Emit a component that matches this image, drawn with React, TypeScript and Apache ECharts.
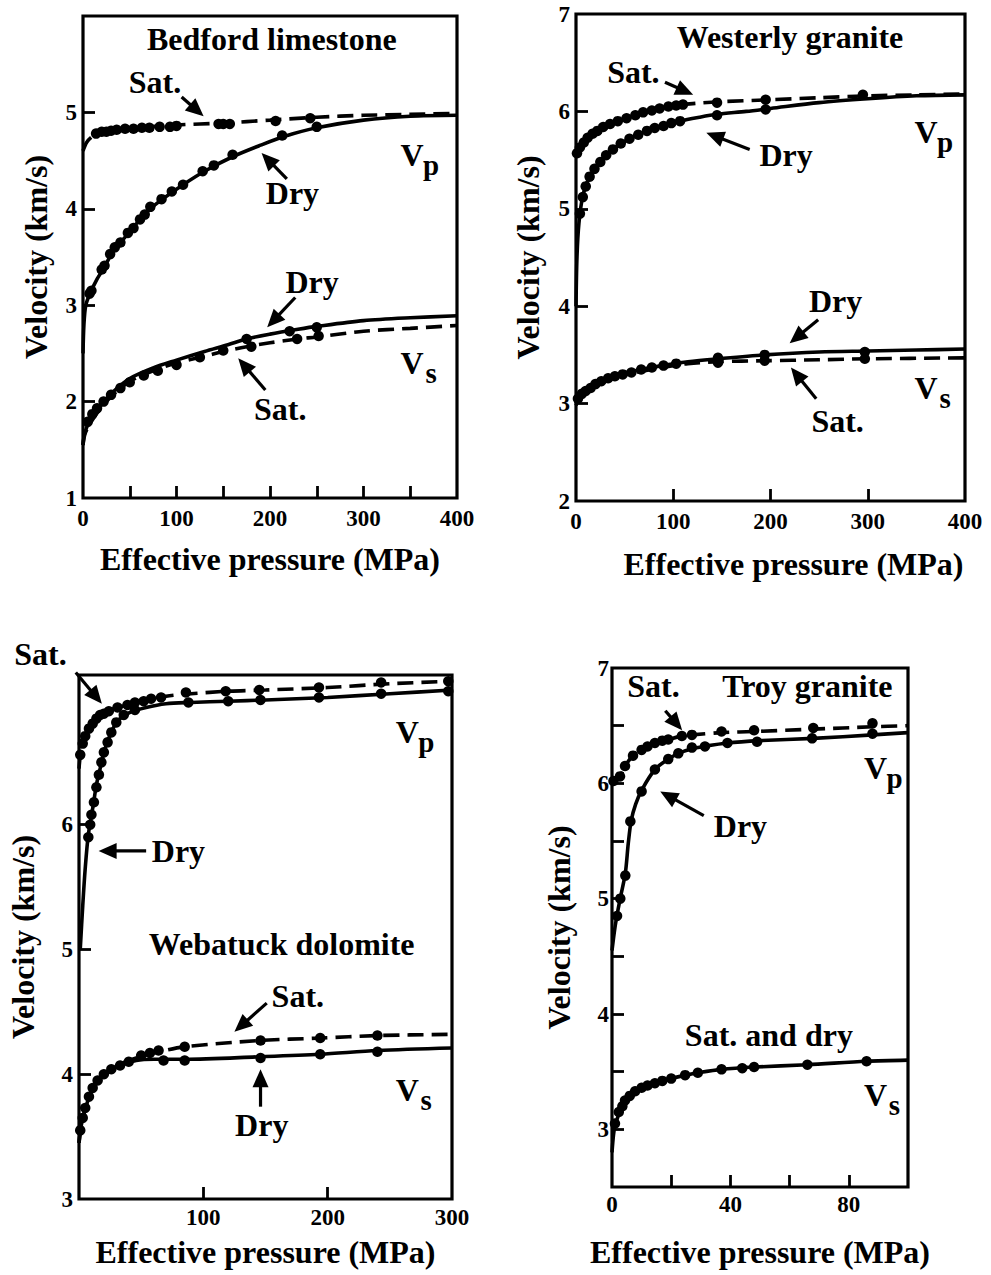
import React, { useEffect, useRef } from 'react';
import * as echarts from 'echarts';

const FONT = '"Liberation Serif", "Times New Roman", serif';

// ---------- Bedford limestone (x: MPa, y: km/s) ----------
const bedfordSatVpCurve = [[0,4.6],[4,4.69],[10,4.75],[20,4.79],[40,4.82],[70,4.85],[100,4.87],[150,4.89],[200,4.92],[250,4.95],[300,4.97],[350,4.98],[400,4.99]];
const bedfordSatVpPts = [[14,4.78],[20,4.80],[25,4.80],[30,4.81],[36,4.82],[45,4.83],[54,4.83],[63,4.84],[71,4.84],[82,4.85],[93,4.85],[100,4.86],[145,4.88],[150,4.88],[157,4.88],[206,4.91],[243,4.94]];
const bedfordDryVpCurve = [[0,2.5],[1,2.8],[3,3.0],[7.5,3.12],[15,3.27],[22,3.38],[30,3.52],[40,3.65],[50,3.76],[60,3.88],[72,4.0],[85,4.1],[107,4.25],[130,4.39],[160,4.54],[190,4.66],[215,4.75],[250,4.84],[300,4.92],[350,4.96],[400,4.97]];
const bedfordDryVpPts = [[7,3.12],[9,3.15],[20,3.37],[23,3.41],[29,3.53],[34,3.60],[40,3.65],[48,3.75],[54,3.80],[61,3.89],[66,3.94],[72,4.02],[84,4.10],[95,4.18],[107,4.25],[128,4.39],[140,4.45],[160,4.56],[213,4.76],[250,4.85]];
const bedfordDryVsCurve = [[0,1.55],[2,1.68],[7.5,1.8],[18,1.95],[32,2.1],[50,2.24],[75,2.35],[100,2.43],[130,2.52],[155,2.59],[175,2.65],[200,2.7],[230,2.75],[250,2.78],[300,2.84],[350,2.87],[400,2.89]];
const bedfordSatVsCurve = [[0,1.55],[2,1.66],[7.5,1.77],[18,1.92],[32,2.07],[50,2.21],[75,2.32],[100,2.4],[130,2.47],[155,2.53],[175,2.57],[200,2.61],[230,2.65],[250,2.67],[300,2.73],[350,2.76],[400,2.79]];
const bedfordDryVsPts = [[5,1.79],[10,1.87],[15,1.93],[22,2.0],[30,2.07],[40,2.14],[50,2.2],[65,2.27],[80,2.32],[100,2.38],[125,2.46],[150,2.53],[175,2.65],[221,2.73],[250,2.77]];
const bedfordSatVsPts = [[180,2.57],[229,2.65],[252,2.68]];

// ---------- Westerly granite ----------
const westerlySatVpCurve = [[0,5.55],[5,5.65],[11,5.72],[21,5.8],[35,5.87],[52,5.93],[69,5.99],[86,6.03],[103,6.06],[120,6.08],[150,6.1],[200,6.12],[250,6.14],[300,6.16],[350,6.17],[400,6.18]];
const westerlySatVpPts = [[1,5.57],[4,5.63],[8,5.68],[12,5.73],[17,5.77],[22,5.8],[28,5.84],[35,5.87],[43,5.9],[52,5.93],[61,5.96],[69,5.99],[78,6.01],[86,6.03],[95,6.05],[103,6.06],[110,6.07],[145,6.09],[195,6.12],[295,6.17]];
const westerlyDryVpCurve = [[0,4.0],[1,4.5],[3,4.85],[7,5.13],[14,5.33],[25,5.48],[38,5.61],[55,5.72],[73,5.8],[90,5.85],[107,5.9],[127,5.94],[145,5.97],[175,6.0],[200,6.03],[250,6.09],[300,6.13],[350,6.16],[400,6.17]];
const westerlyDryVpPts = [[4,4.95],[7,5.12],[10,5.23],[14,5.33],[19,5.41],[25,5.48],[31,5.55],[38,5.61],[46,5.67],[55,5.72],[64,5.76],[73,5.8],[81,5.83],[90,5.85],[98,5.88],[107,5.9],[145,5.96],[195,6.02]];
const westerlyDryVsCurve = [[0,3.0],[3,3.07],[13,3.14],[26,3.23],[44,3.3],[67,3.35],[95,3.4],[115,3.43],[146,3.46],[194,3.5],[250,3.53],[300,3.54],[350,3.55],[400,3.56]];
const westerlySatVsCurve = [[0,2.98],[3,3.05],[13,3.12],[26,3.21],[44,3.28],[67,3.33],[95,3.38],[115,3.41],[146,3.43],[194,3.44],[250,3.45],[300,3.46],[400,3.47]];
const westerlyDryVsPts = [[2,3.05],[6,3.1],[10,3.13],[15,3.16],[20,3.2],[26,3.23],[33,3.26],[40,3.28],[48,3.3],[57,3.32],[67,3.35],[78,3.37],[90,3.39],[103,3.41],[146,3.47],[194,3.5],[297,3.53]];
const westerlySatVsPts = [[146,3.42],[194,3.44],[297,3.46]];

// ---------- Webatuck dolomite ----------
const webatuckSatVpCurve = [[0,6.45],[1,6.55],[3,6.65],[6,6.73],[10,6.81],[17,6.88],[25,6.92],[35,6.95],[50,6.99],[70,7.03],[90,7.05],[120,7.07],[150,7.08],[200,7.1],[250,7.13],[300,7.15]];
const webatuckSatVpPts = [[1,6.56],[3,6.65],[5,6.71],[8,6.77],[11,6.81],[14,6.85],[17,6.88],[20,6.89],[24,6.91],[31,6.94],[39,6.96],[45,6.98],[52,6.99],[58,7.01],[66,7.02],[86,7.06],[118,7.07],[145,7.08],[193,7.1],[243,7.14],[297,7.15]];
const webatuckDryVpCurve = [[1,5.0],[3,5.35],[5,5.65],[7.5,5.92],[11.5,6.16],[14,6.32],[17,6.45],[21,6.61],[25,6.72],[31,6.83],[41,6.9],[54,6.94],[70,6.97],[90,6.98],[120,6.99],[150,7.0],[200,7.02],[250,7.05],[300,7.08]];
const webatuckDryVpPts = [[7.5,5.9],[9,6.0],[10,6.08],[12,6.18],[14,6.3],[16,6.4],[18,6.5],[20,6.58],[23,6.66],[26,6.74],[30,6.82],[36,6.88],[45,6.92],[88,6.98],[120,6.99],[146,7.0],[193,7.02],[243,7.05],[297,7.07]];
const webatuckDryVsCurve = [[0,3.45],[2,3.6],[5,3.72],[11.5,3.9],[20,4.0],[33,4.07],[46,4.11],[60,4.12],[85,4.12],[145,4.14],[194,4.16],[240,4.19],[300,4.21]];
const webatuckSatVsCurve = [[0,3.45],[2,3.6],[5,3.72],[11.5,3.9],[20,4.0],[33,4.08],[46,4.13],[60,4.17],[85,4.22],[145,4.27],[194,4.29],[240,4.31],[300,4.32]];
const webatuckVsPts = [[1,3.55],[3,3.65],[5,3.73],[8,3.82],[11,3.89],[15,3.95],[20,4.0],[26,4.04],[33,4.07],[40,4.1],[50,4.15],[57,4.17],[68,4.11],[85,4.11],[146,4.13],[194,4.16],[240,4.18]];
const webatuckSatVsPts = [[64,4.19],[85,4.22],[146,4.27],[194,4.29],[240,4.31]];

// ---------- Troy granite ----------
const troySatVpCurve = [[0,6.0],[2.7,6.06],[4.4,6.15],[7.1,6.24],[10,6.29],[14.5,6.35],[19,6.38],[23.6,6.41],[27,6.42],[37,6.44],[49,6.45],[68,6.47],[88,6.49],[100,6.5]];
const troySatVpPts = [[0.5,6.02],[2.7,6.06],[4.4,6.15],[7.1,6.24],[10,6.29],[12,6.32],[14.5,6.35],[17,6.37],[19,6.38],[23.6,6.41],[27,6.42],[37,6.45],[48,6.46],[68,6.48],[88,6.52]];
const troyDryVpCurve = [[0,4.55],[1,4.75],[2,4.9],[3,5.03],[4.5,5.22],[5.5,5.48],[6.5,5.68],[8,5.82],[10,5.94],[14.5,6.12],[19,6.21],[22.5,6.26],[27,6.3],[31,6.32],[39,6.35],[50,6.37],[68,6.39],[88,6.42],[100,6.44]];
const troyDryVpPts = [[1.7,4.85],[2.8,5.0],[4.5,5.2],[6.2,5.67],[10,5.93],[14.5,6.12],[19,6.21],[22.4,6.26],[27,6.31],[31.4,6.32],[39,6.35],[49,6.36],[67.6,6.39],[88,6.43]];
const troyVsCurve = [[0,2.8],[0.5,2.95],[1,3.03],[2.3,3.13],[4.4,3.25],[7.8,3.33],[14.5,3.4],[20,3.44],[25,3.47],[29,3.49],[37,3.52],[48,3.54],[66,3.56],[86,3.59],[100,3.6]];
const troyVsPts = [[1,3.05],[2.3,3.15],[3.5,3.2],[4.4,3.25],[6,3.29],[7.8,3.33],[10,3.36],[12,3.38],[14.5,3.4],[17,3.42],[20,3.44],[24.7,3.47],[29,3.49],[37,3.52],[44,3.53],[48,3.54],[66,3.56],[86,3.59]];

// ---------- axis tick / label values ----------
const xTicks = [[50,100,150,200,250,300,350],[100,200,300],[100,200],[20,40,60,80]];
const xLabels = [[0,100,200,300,400],[0,100,200,300,400],[100,200,300],[0,40,80]];
const yTicks = [[2,3,4,5],[3,4,5,6],[4,5,6],[3,3.5,4,4.5,5,5.5,6,6.5]];
const yLabels = [[1,2,3,4,5],[2,3,4,5,6,7],[3,4,5,6],[3,4,5,6,7]];
const xRanges = [[0,400],[0,400],[0,300],[0,100]];
const yRanges = [[1,6],[2,7],[3,7.2],[2.5,7]];

// ---------- annotations (data coords per panel) ----------
const texts = [
  { g: 0, t: 'Bedford limestone', x: 202, y: 5.76 },
  { g: 0, t: 'Sat.', x: 77, y: 5.32 },
  { g: 0, t: 'Dry', x: 224, y: 4.16 },
  { g: 0, t: 'Dry', x: 245, y: 3.24 },
  { g: 0, t: 'Sat.', x: 211, y: 1.92 },
  { g: 1, t: 'Westerly granite', x: 220, y: 6.76 },
  { g: 1, t: 'Sat.', x: 59, y: 6.4 },
  { g: 1, t: 'Dry', x: 216, y: 5.55 },
  { g: 1, t: 'Dry', x: 267, y: 4.05 },
  { g: 1, t: 'Sat.', x: 269, y: 2.82 },
  { g: 2, t: 'Sat.', x: -31, y: 7.37 },
  { g: 2, t: 'Dry', x: 80, y: 5.79 },
  { g: 2, t: 'Webatuck dolomite', x: 163, y: 5.04 },
  { g: 2, t: 'Sat.', x: 176, y: 4.63 },
  { g: 2, t: 'Dry', x: 147, y: 3.59 },
  { g: 3, t: 'Troy granite', x: 66, y: 6.84 },
  { g: 3, t: 'Sat.', x: 14, y: 6.84 },
  { g: 3, t: 'Dry', x: 43.4, y: 5.63 },
  { g: 3, t: 'Sat. and dry', x: 53, y: 3.82 },
];
const subLabels = [
  { g: 0, v: 'V', s: 'p', x: 352, y: 4.56 },
  { g: 0, v: 'V', s: 's', x: 352, y: 2.4 },
  { g: 1, v: 'V', s: 'p', x: 360, y: 5.79 },
  { g: 1, v: 'V', s: 's', x: 360, y: 3.16 },
  { g: 2, v: 'V', s: 'p', x: 264, y: 6.74 },
  { g: 2, v: 'V', s: 's', x: 264, y: 3.87 },
  { g: 3, v: 'V', s: 'p', x: 89, y: 6.13 },
  { g: 3, v: 'V', s: 's', x: 89, y: 3.3 },
];
const arrows = [
  { g: 0, from: [105.5, 5.16], to: [129, 4.96] },
  { g: 0, from: [218, 4.31], to: [191, 4.58] },
  { g: 0, from: [227, 3.08], to: [197, 2.77] },
  { g: 0, from: [195, 2.12], to: [166, 2.45] },
  { g: 1, from: [91.5, 6.3], to: [120.5, 6.17] },
  { g: 1, from: [178.6, 5.61], to: [134, 5.78] },
  { g: 1, from: [249, 3.86], to: [219.7, 3.62] },
  { g: 1, from: [247, 3.05], to: [221, 3.37] },
  { g: 2, from: [-2.6, 7.22], to: [18.4, 6.97] },
  { g: 2, from: [54, 5.79], to: [15.8, 5.79] },
  { g: 2, from: [151, 4.57], to: [125, 4.34] },
  { g: 2, from: [146, 3.74], to: [146, 4.04] },
  { g: 3, from: [18, 6.63], to: [23.7, 6.46] },
  { g: 3, from: [31, 5.72], to: [16.3, 5.93] },
];

const grids = [
  { left: 83, top: 16, width: 374, height: 482 },
  { left: 576, top: 14, width: 389, height: 487 },
  { left: 79, top: 675, width: 373, height: 524 },
  { left: 612, top: 668, width: 296, height: 519 },
];
const yNameGap = [31, 32, 40, 37];
const xNameGap = [45, 47, 37, 49];
const xLabelMargin = [9, 9, 7, 6];
const yLabelMargin = [6, 6, 6, 3];

function curve(g: number, data: number[][], dashed: boolean) {
  return {
    type: 'line', xAxisIndex: g, yAxisIndex: g, data, smooth: 0.3,
    showSymbol: false, symbol: 'none', clip: true,
    lineStyle: { color: '#000', width: 3.6, type: dashed ? [16, 8] : 'solid' },
  };
}
function pts(g: number, data: number[][]) {
  return {
    type: 'scatter', xAxisIndex: g, yAxisIndex: g, data, symbol: 'circle', symbolSize: 10.5,
    itemStyle: { color: '#000', opacity: 1 }, clip: false,
  };
}

export default function App() {
  const ref = useRef<HTMLDivElement>(null);
  useEffect(() => {
    const chart = echarts.init(ref.current!, null, { renderer: 'svg' });
    const xAxis = grids.map((_, i) => ({
      type: 'value', gridIndex: i, min: xRanges[i][0], max: xRanges[i][1],
      name: 'Effective pressure (MPa)', nameLocation: 'middle', nameGap: xNameGap[i],
      nameTextStyle: { fontFamily: FONT, fontWeight: 'bold', fontSize: 32, color: '#000', padding: i === 1 ? [0, 0, 0, 46] : 0 },
      axisLine: { show: false },
      splitLine: { show: false },
      axisTick: { show: true, inside: true, length: 12, customValues: xTicks[i], lineStyle: { color: '#000', width: 2.8 } },
      axisLabel: { show: true, customValues: xLabels[i], margin: xLabelMargin[i], fontFamily: FONT, fontWeight: 'bold', fontSize: 23, color: '#000' },
    }));
    const yAxis = grids.map((_, i) => ({
      type: 'value', gridIndex: i, min: yRanges[i][0], max: yRanges[i][1],
      name: 'Velocity (km/s)', nameLocation: 'middle', nameGap: yNameGap[i],
      nameTextStyle: { fontFamily: FONT, fontWeight: 'bold', fontSize: 32, color: '#000' },
      axisLine: { show: false },
      splitLine: { show: false },
      axisTick: { show: true, inside: true, length: 12, customValues: yTicks[i], lineStyle: { color: '#000', width: 2.8 } },
      axisLabel: { show: true, customValues: yLabels[i], margin: yLabelMargin[i], fontFamily: FONT, fontWeight: 'bold', fontSize: 23, color: '#000' },
    }));
    const series: any[] = [
      curve(0, bedfordSatVpCurve, true), pts(0, bedfordSatVpPts),
      curve(0, bedfordDryVpCurve, false), pts(0, bedfordDryVpPts),
      curve(0, bedfordDryVsCurve, false), curve(0, bedfordSatVsCurve, true),
      pts(0, bedfordDryVsPts), pts(0, bedfordSatVsPts),
      curve(1, westerlySatVpCurve, true), pts(1, westerlySatVpPts),
      curve(1, westerlyDryVpCurve, false), pts(1, westerlyDryVpPts),
      curve(1, westerlyDryVsCurve, false), curve(1, westerlySatVsCurve, true),
      pts(1, westerlyDryVsPts), pts(1, westerlySatVsPts),
      curve(2, webatuckSatVpCurve, true), pts(2, webatuckSatVpPts),
      curve(2, webatuckDryVpCurve, false), pts(2, webatuckDryVpPts),
      curve(2, webatuckDryVsCurve, false), curve(2, webatuckSatVsCurve, true),
      pts(2, webatuckVsPts), pts(2, webatuckSatVsPts),
      curve(3, troySatVpCurve, true), pts(3, troySatVpPts),
      curve(3, troyDryVpCurve, false), pts(3, troyDryVpPts),
      curve(3, troyVsCurve, false), pts(3, troyVsPts),
    ];
    chart.setOption({
      animation: false,
      backgroundColor: '#fff',
      grid: grids.map((g) => ({ ...g, show: true, borderColor: '#000', borderWidth: 3.2, backgroundColor: 'transparent' })),
      xAxis, yAxis, series,
    });

    const graphic: any[] = [];
    const font = `bold 32px ${FONT}`;
    texts.forEach((a) => {
      const [px, py] = chart.convertToPixel({ gridIndex: a.g } as any, [a.x, a.y]) as number[];
      graphic.push({ type: 'text', x: px, y: py, z: 100, style: { text: a.t, font, fill: '#000', align: 'center', verticalAlign: 'middle' } });
    });
    subLabels.forEach((a) => {
      const [px, py] = chart.convertToPixel({ gridIndex: a.g } as any, [a.x, a.y]) as number[];
      graphic.push({ type: 'text', x: px, y: py, z: 100, style: { text: a.v, font, fill: '#000', align: 'center', verticalAlign: 'middle' } });
      graphic.push({ type: 'text', x: px + 19, y: py + 10, z: 100, style: { text: a.s, font: `bold 29px ${FONT}`, fill: '#000', align: 'center', verticalAlign: 'middle' } });
    });
    arrows.forEach((a) => {
      const p1 = chart.convertToPixel({ gridIndex: a.g } as any, a.from) as number[];
      const p2 = chart.convertToPixel({ gridIndex: a.g } as any, a.to) as number[];
      const dx = p2[0] - p1[0], dy = p2[1] - p1[1];
      const len = Math.sqrt(dx * dx + dy * dy);
      const ux = dx / len, uy = dy / len;
      const hl = 18, hw = 8;
      const bx = p2[0] - ux * hl, by = p2[1] - uy * hl;
      graphic.push({ type: 'line', z: 100, shape: { x1: p1[0], y1: p1[1], x2: bx + ux * 2, y2: by + uy * 2 }, style: { stroke: '#000', lineWidth: 3.2 } });
      graphic.push({ type: 'polygon', z: 100, shape: { points: [[p2[0], p2[1]], [bx - uy * hw, by + ux * hw], [bx + uy * hw, by - ux * hw]] }, style: { fill: '#000' } });
    });
    chart.setOption({ graphic });
    return () => chart.dispose();
  }, []);
  return <div ref={ref} style={{ position: 'absolute', left: 0, top: 0, width: 991, height: 1275, background: '#fff' }} />;
}
